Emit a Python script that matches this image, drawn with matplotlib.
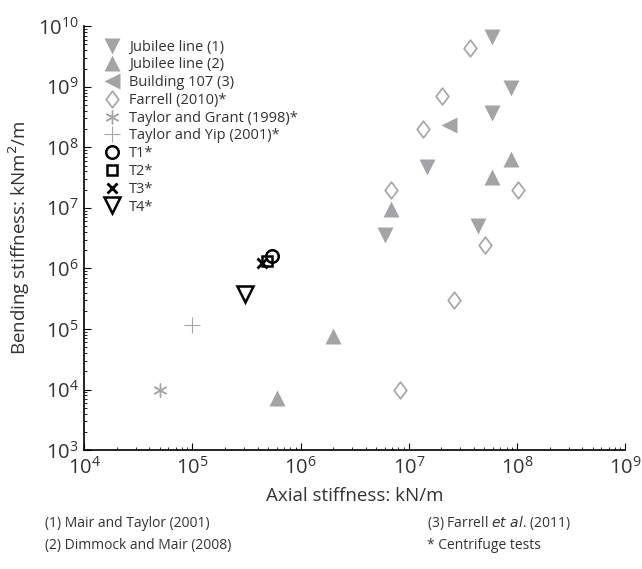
import matplotlib.pyplot as plt
from matplotlib.path import Path
from matplotlib.ticker import NullFormatter

plt.rcParams['font.family'] = ['Open Sans', 'DejaVu Sans']

grey = '#a3a4a7'
ink = '#333333'

# Jubilee line (1)
jub1_x = [5.9e7, 8.8e7, 5.9e7, 1.48e7, 4.4e7, 6.0e6]
jub1_y = [6.6e9, 9.7e8, 3.7e8, 4.7e7, 5.0e6, 3.6e6]
# Jubilee line (2)
jub2_x = [8.8e7, 5.9e7, 6.9e6, 1.98e6, 6.0e5]
jub2_y = [6.3e7, 3.2e7, 9.4e6, 7.6e4, 7.3e3]
# Building 107 (3)
b107_x = [2.36e7]
b107_y = [2.3e8]
# Farrell (2010)
far_x = [3.7e7, 2.03e7, 1.36e7, 6.8e6, 1.02e8, 5.1e7, 2.6e7, 8.3e6]
far_y = [4.4e9, 6.9e8, 2.0e8, 2.0e7, 1.95e7, 2.4e6, 3.0e5, 9.8e3]
# centrifuge references
tg_x, tg_y = [5.0e4], [1.0e4]
ty_x, ty_y = [1.0e5], [1.15e5]
t1_x, t1_y = [5.5e5], [1.6e6]
t2_x, t2_y = [4.9e5], [1.33e6]
t3_x, t3_y = [4.4e5], [1.23e6]
t4_x, t4_y = [3.07e5], [3.85e5]

x_decades = [1e4, 1e5, 1e6, 1e7, 1e8, 1e9]
y_decades = [1e3, 1e4, 1e5, 1e6, 1e7, 1e8, 1e9, 1e10]

# diamond a bit wider than matplotlib's thin diamond
diamond = Path([(0, 1), (0.76, 0), (0, -1), (-0.76, 0), (0, 1)],
               [Path.MOVETO, Path.LINETO, Path.LINETO, Path.LINETO, Path.CLOSEPOLY])

fig = plt.figure(figsize=(6.42, 5.69), dpi=100)
ax = fig.add_axes([0.131, 0.209, 0.843, 0.745])

ax.plot(jub1_x, jub1_y, 'v', ms=11, color=grey, mec='none', label='Jubilee line (1)')
ax.plot(jub2_x, jub2_y, '^', ms=11, color=grey, mec='none', label='Jubilee line (2)')
ax.plot(b107_x, b107_y, '<', ms=11, color=grey, mec='none', label='Building 107 (3)')
ax.plot(far_x, far_y, ls='none', marker=diamond, ms=12, mfc='white', mec=grey, mew=1.2,
        label='Farrell (2010)*')
ax.plot(tg_x, tg_y, marker=(6, 2, 0), ls='none', ms=10, color=grey, mew=1, label='Taylor and Grant (1998)*')
ax.plot(ty_x, ty_y, '+', ms=11, color=grey, mew=0.8, label='Taylor and Yip (2001)*')
ax.plot(t1_x, t1_y, 'o', ms=9, mfc='none', mec='black', mew=1.8, label='T1*')
ax.plot(t2_x, t2_y, 's', ms=7.5, mfc='none', mec='black', mew=1.8, label='T2*')
ax.plot(t3_x, t3_y, 'x', ms=7, color='black', mew=2, label='T3*')
ax.plot(t4_x, t4_y, 'v', ms=11, mfc='none', mec='black', mew=1.8, label='T4*')

ax.set_xscale('log')
ax.set_yscale('log')
ax.set_xticks(x_decades)
ax.set_yticks(y_decades)
ax.set_xlim(1e4, 1e9)
ax.set_ylim(1e3, 1e10)
ax.xaxis.set_minor_formatter(NullFormatter())
ax.yaxis.set_minor_formatter(NullFormatter())

for s in ['top', 'right']:
    ax.spines[s].set_visible(False)
ax.spines['left'].set_linewidth(1.2)
ax.spines['bottom'].set_linewidth(1.2)
ax.tick_params(which='both', direction='in', labelsize=14.5, labelcolor=ink)
ax.tick_params(axis='x', pad=5)
ax.tick_params(axis='y', pad=4)
ax.tick_params(which='major', length=5)
ax.tick_params(which='minor', length=2.5)

ax.set_xlabel('Axial stiffness: kN/m', fontsize=13.5, color=ink, labelpad=6)
ax.set_ylabel('Bending stiffness: kNm$^2$/m', fontsize=13.5, color=ink, labelpad=4)

ax.legend(loc='upper left', bbox_to_anchor=(0.022, 0.982), frameon=False, fontsize=10.5,
          handletextpad=0.45, labelspacing=0.19, borderaxespad=0.0, handlelength=1.4,
          labelcolor=ink)

fig.text(0.07, 0.073, '(1) Mair and Taylor (2001)', fontsize=10, color=ink)
fig.text(0.07, 0.036, '(2) Dimmock and Mair (2008)', fontsize=10, color=ink)
fig.text(0.665, 0.073, '(3) Farrell $\\it{et\\ al}$. (2011)', fontsize=10, color=ink)
fig.text(0.665, 0.036, '* Centrifuge tests', fontsize=10, color=ink)

fig.savefig('out.png', dpi=100)
